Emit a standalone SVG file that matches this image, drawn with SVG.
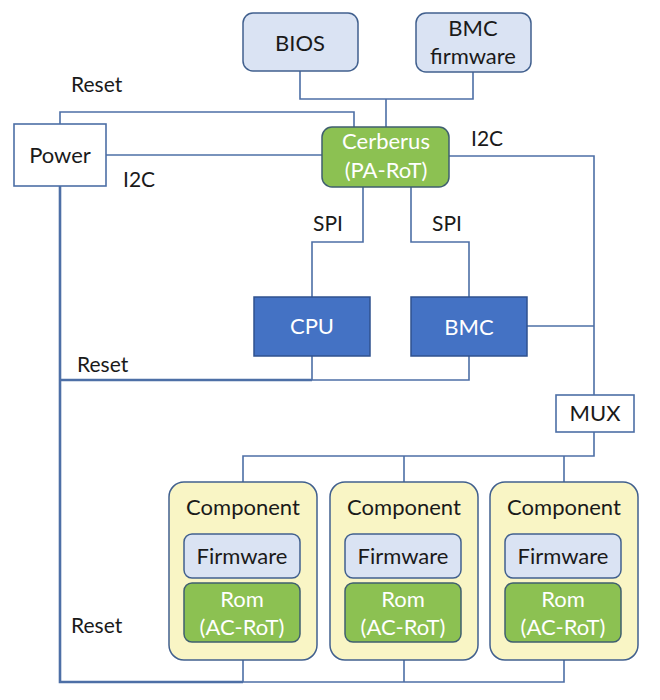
<svg xmlns="http://www.w3.org/2000/svg" width="660" height="700" viewBox="0 0 660 700">
<style>
text{font-family:Lato,"Liberation Sans","DejaVu Sans",sans-serif;font-size:22px;text-anchor:middle;fill:#1a1a1a}
.w{fill:#ffffff}
.lbl{text-anchor:start;font-size:21px}
.wire{fill:none;stroke:#4d6fa6;stroke-width:1.6}
.thick{fill:none;stroke:#4d6fa6;stroke-width:2.6}
.fw{fill:#dae3f3;stroke:#41608e;stroke-width:1.5}
.green{fill:#8cc152;stroke:#3f5f6f;stroke-width:1.5}
.blue{fill:#4472c4;stroke:#2f528f;stroke-width:1.5}
.plain{fill:#ffffff;stroke:#4d6fa6;stroke-width:1.6}
.comp{fill:#f9f5c5;stroke:#41608e;stroke-width:1.5}
</style>
<rect width="660" height="700" fill="#ffffff"/>
<g id="connectors">
<path class="wire" d="M60,124 V112 H354 V127"/>
<path class="wire" d="M106,155 H322"/>
<path class="wire" d="M300,71 V99 H473 V72 M386,99 V127"/>
<path class="wire" d="M449,156 H594 V395"/>
<path class="wire" d="M527,326 H594"/>
<path class="wire" d="M363,187 V242 H312 V297"/>
<path class="wire" d="M411,187 V242 H469 V297"/>
<path class="wire" d="M60,380 H469 V356 M312,356 V380"/>
<path class="wire" d="M594,432 V456 H243 V482 M404,456 V482 M564,456 V482"/>
<path class="wire" d="M60,186 V682 H564 V660 M243,660 V682 M404,660 V682"/>
<path class="thick" d="M60,186 V682 H243 M60,380 H312"/>
</g>
<g id="labels">
<text class="lbl" x="71" y="92">Reset</text>
<text class="lbl" x="123" y="187">I2C</text>
<text class="lbl" x="471" y="146">I2C</text>
<text class="lbl" x="313" y="231">SPI</text>
<text class="lbl" x="432" y="231">SPI</text>
<text class="lbl" x="77" y="372">Reset</text>
<text class="lbl" x="71" y="633">Reset</text>
</g>
<g id="bios">
<rect class="fw" x="243" y="13" width="115" height="58" rx="10"/>
<text x="300" y="51">BIOS</text>
</g>
<g id="bmc-firmware">
<rect class="fw" x="416" y="13" width="115" height="59" rx="10"/>
<text x="473" y="36">BMC</text>
<text x="473" y="64">firmware</text>
</g>
<g id="power">
<rect class="plain" x="14" y="124" width="92" height="62"/>
<text x="60" y="163">Power</text>
</g>
<g id="cerberus">
<rect class="green" x="322" y="127" width="127" height="60" rx="10"/>
<text class="w" x="386" y="149">Cerberus</text>
<text class="w" x="386" y="178">(PA-RoT)</text>
</g>
<g id="cpu">
<rect class="blue" x="254" y="297" width="116" height="59"/>
<text class="w" x="312" y="334">CPU</text>
</g>
<g id="bmc">
<rect class="blue" x="411" y="297" width="116" height="59"/>
<text class="w" x="469" y="335">BMC</text>
</g>
<g id="mux">
<rect class="plain" x="556" y="395" width="78" height="37"/>
<text x="595" y="421">MUX</text>
</g>
<g id="component-1">
<rect class="comp" x="169" y="482" width="148" height="178" rx="15"/>
<text x="243" y="515">Component</text>
<rect class="fw" x="184" y="534" width="116" height="44" rx="8"/>
<text x="242" y="564">Firmware</text>
<rect class="green" x="184" y="583" width="116" height="59" rx="8"/>
<text class="w" x="242" y="607">Rom</text>
<text class="w" x="242" y="635">(AC-RoT)</text>
</g>
<g id="component-2">
<rect class="comp" x="330" y="482" width="148" height="178" rx="15"/>
<text x="404" y="515">Component</text>
<rect class="fw" x="345" y="534" width="116" height="44" rx="8"/>
<text x="403" y="564">Firmware</text>
<rect class="green" x="345" y="583" width="116" height="59" rx="8"/>
<text class="w" x="403" y="607">Rom</text>
<text class="w" x="403" y="635">(AC-RoT)</text>
</g>
<g id="component-3">
<rect class="comp" x="490" y="482" width="148" height="178" rx="15"/>
<text x="564" y="515">Component</text>
<rect class="fw" x="505" y="534" width="116" height="44" rx="8"/>
<text x="563" y="564">Firmware</text>
<rect class="green" x="505" y="583" width="116" height="59" rx="8"/>
<text class="w" x="563" y="607">Rom</text>
<text class="w" x="563" y="635">(AC-RoT)</text>
</g>
</svg>
